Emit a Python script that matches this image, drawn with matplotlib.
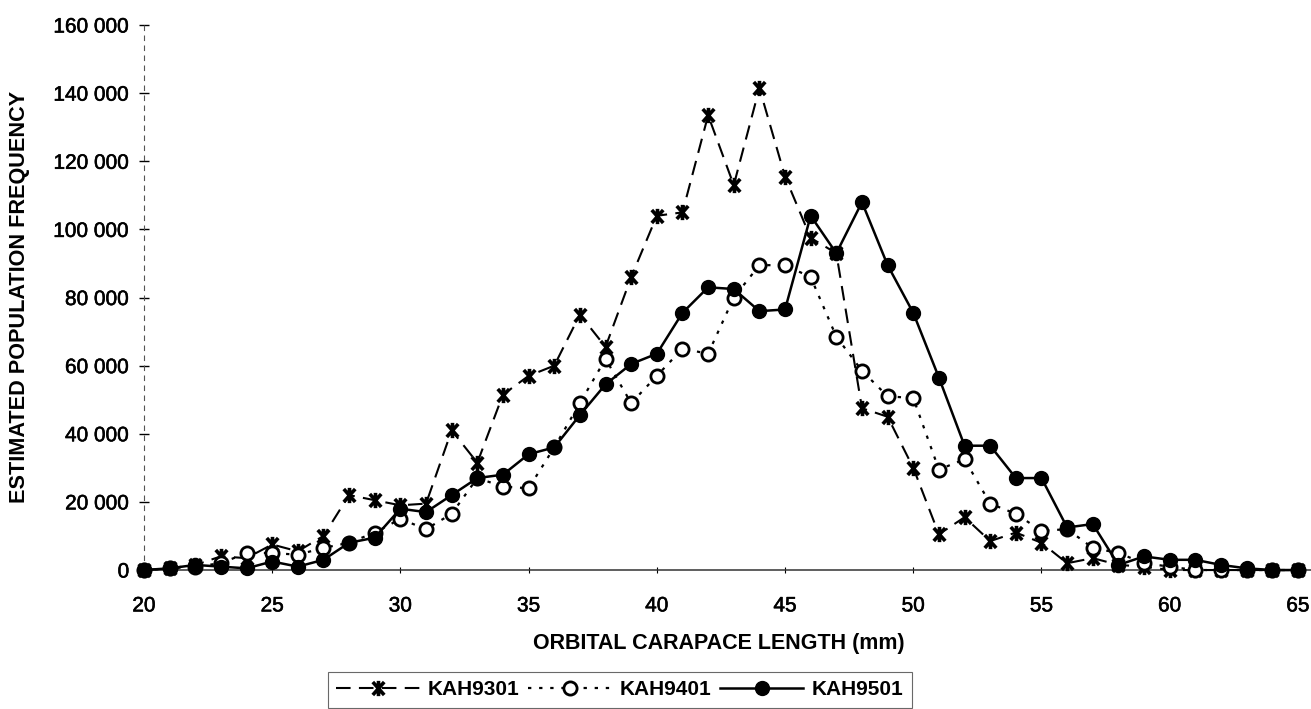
import numpy as np
import matplotlib
matplotlib.use("Agg")
import matplotlib.pyplot as plt
import matplotlib.patheffects as pe
from matplotlib.path import Path
from matplotlib.ticker import FuncFormatter, MultipleLocator

plt.rcParams["font.family"] = ["Liberation Sans", "DejaVu Sans"]

# orbital carapace length classes (mm)
length_mm = np.arange(20, 66)

# estimated population frequency per survey
kah9301 = [0, 500, 1500, 4000, 3500, 7500, 5500, 10000, 22000, 20500,
           19000, 19500, 41000, 31500, 51500, 57000, 60000, 75000, 65500, 86000,
           104000, 105000, 133500, 113000, 141500, 115500, 97500, 93000, 47500, 45000,
           30000, 10500, 15500, 8500, 11000, 8000, 2000, 3500, 1500, 1000,
           0, 0, 0, 0, 0, 0]
kah9401 = [0, 500, 1000, 2000, 5000, 5000, 4500, 6500, 8000, 11000,
           15000, 12000, 16500, 27000, 24500, 24000, 36000, 49000, 62000, 49000,
           57000, 65000, 63500, 80000, 89500, 89500, 86000, 68500, 58500, 51000,
           50500, 29500, 32500, 19500, 16500, 11500, 12000, 6500, 5000, 2000,
           1000, 0, 0, 0, 0, 0]
kah9501 = [0, 500, 1500, 1000, 500, 2500, 1000, 3000, 8000, 9500,
           18000, 17000, 22000, 27000, 28000, 34000, 36000, 45500, 54500, 60500,
           63500, 75500, 83000, 82500, 76000, 76500, 104000, 93000, 108000, 89500,
           75500, 56500, 36500, 36500, 27000, 27000, 12500, 13500, 1500, 4000,
           3000, 3000, 1500, 500, 0, 0]

series_names = ["KAH9301", "KAH9401", "KAH9501"]

# asterisk marker: an X with a vertical bar through it
star = Path([(0, -1), (0, 1), (-0.75, -0.85), (0.75, 0.85), (-0.75, 0.85), (0.75, -0.85)],
            [Path.MOVETO, Path.LINETO, Path.MOVETO, Path.LINETO, Path.MOVETO, Path.LINETO])

fig = plt.figure(figsize=(13.11, 7.09), dpi=100)
ax = fig.add_axes([0.1098, 0.196, 0.8902, 0.7687])

ax.plot(length_mm, kah9301, color="black", linestyle=(0, (7, 4)), linewidth=1.5,
        marker=star, markersize=11, markeredgewidth=2.6, clip_on=False,
        label=series_names[0], zorder=3)
ax.plot(length_mm, kah9401, color="black", linestyle=(0, (1.5, 3.5)), linewidth=1.6,
        marker="o", markersize=9.5, markerfacecolor="white", markeredgewidth=2.0,
        clip_on=False, label=series_names[1], zorder=4)
ax.plot(length_mm, kah9501, color="black", linestyle="-", linewidth=1.8,
        marker="o", markersize=10, markerfacecolor="black", clip_on=False,
        label=series_names[2], zorder=5)

ax.set_xlim(20, 65.51)
ax.set_ylim(0, 160000)
ax.xaxis.set_major_locator(MultipleLocator(5))
ax.yaxis.set_major_locator(MultipleLocator(20000))
ax.yaxis.set_major_formatter(
    FuncFormatter(lambda v, p: f"{v:,.0f}".replace(",", " ")))

# axis lines: faint dashed vertical axis, thin solid base line
for side in ("top", "right"):
    ax.spines[side].set_visible(False)
ax.spines["left"].set_linestyle((0, (4, 5)))
ax.spines["left"].set_linewidth(0.8)
ax.spines["left"].set_color("#555555")
ax.spines["bottom"].set_linewidth(1.1)
ax.spines["bottom"].set_color("#333333")

ax.tick_params(axis="y", direction="inout", length=7, width=1.0,
               labelsize=15, pad=7)
ax.tick_params(axis="x", direction="inout", length=4, width=0.8,
               labelsize=15, pad=17)
heavy = [pe.withStroke(linewidth=0.4, foreground="black")]
for lbl in ax.get_xticklabels() + ax.get_yticklabels():
    lbl.set_path_effects(heavy)

fig.text(719 / 1311, 1 - 643 / 709, "ORBITAL CARAPACE LENGTH (mm)",
         ha="center", va="center", fontsize=15.5, fontweight="bold")
fig.text(20 / 1311, 1 - 297 / 709, "ESTIMATED POPULATION FREQUENCY",
         ha="center", va="center", rotation=90, fontsize=15.6, fontweight="bold")

leg = fig.legend(loc="upper left", bbox_to_anchor=(328 / 1311, 1 - 672 / 709),
                 borderaxespad=0, ncol=3, frameon=True, fancybox=False,
                 handlelength=4.0, handletextpad=0.4, columnspacing=0.4,
                 borderpad=0.4, prop={"size": 15, "weight": "bold"})
leg.get_frame().set_edgecolor("#444444")
leg.get_frame().set_linewidth(0.8)

fig.savefig("out.png", dpi=100)
